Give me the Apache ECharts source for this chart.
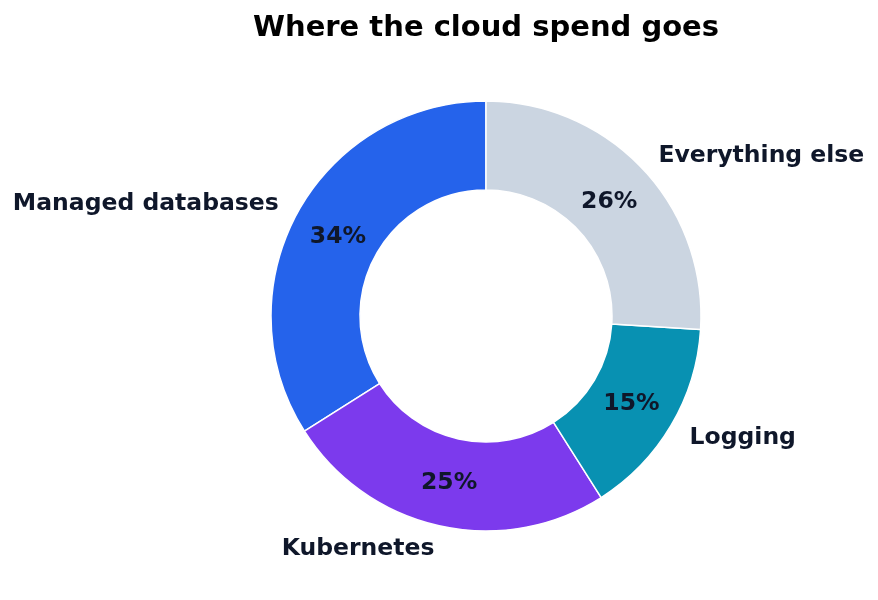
<!DOCTYPE html>
<html>
<head>
<meta charset="utf-8">
<script src="https://cdn.jsdelivr.net/npm/echarts@6/dist/echarts.min.js"></script>
<style>
  html, body { margin: 0; padding: 0; background: #fff; }
  #chart { width: 878px; height: 600px; }
</style>
</head>
<body>
<div id="chart"></div>
<script>
// spend share by area (percent of total)
const categories = ['Managed databases', 'Kubernetes', 'Logging', 'Everything else'];
const shares = [34, 25, 15, 26];
const colors = ['#2563eb', '#7c3aed', '#0891b2', '#cbd5e1'];

const FONT = '"DejaVu Sans", sans-serif';
const TEXT = '#0f172a';

const slices = categories.map((name, i) => ({
  name,
  value: shares[i],
  itemStyle: { color: colors[i] },
}));

const chart = echarts.init(document.getElementById('chart'), null, { renderer: 'canvas' });

chart.setOption({
  animation: false,
  title: {
    text: 'Where the cloud spend goes',
    left: 481,
    textAlign: 'center',
    top: 9,
    textStyle: { fontFamily: FONT, fontWeight: 'bold', fontSize: 29, color: '#000' },
  },
  series: [
    {
      // the donut itself, with category names outside
      type: 'pie',
      center: [486, 316],
      radius: [126, 215],
      startAngle: 90,
      clockwise: false,
      avoidLabelOverlap: false,
      silent: true,
      itemStyle: { borderColor: '#fff', borderWidth: 1.5 },
      label: {
        show: true,
        position: 'outside',
        distanceToLabelLine: 0,
        offset: [0, 2],
        fontFamily: FONT,
        fontWeight: 'bold',
        fontSize: 23.5,
        color: TEXT,
        formatter: '{b}',
      },
      labelLine: { show: false, length: 21.5, length2: 0 },
      data: slices,
    },
    {
      // invisible copy that only carries the percent labels
      type: 'pie',
      center: [486, 316],
      radius: [117, 215],
      startAngle: 90,
      clockwise: false,
      silent: true,
      itemStyle: { color: 'transparent', borderWidth: 0 },
      label: {
        show: true,
        position: 'inside',
        offset: [0, 2],
        fontFamily: FONT,
        fontWeight: 'bold',
        fontSize: 23.5,
        color: TEXT,
        formatter: (p) => Math.round(p.percent) + '%',
      },
      labelLine: { show: false },
      data: categories.map((name, i) => ({ name, value: shares[i] })),
    },
  ],
});
</script>
</body>
</html>
